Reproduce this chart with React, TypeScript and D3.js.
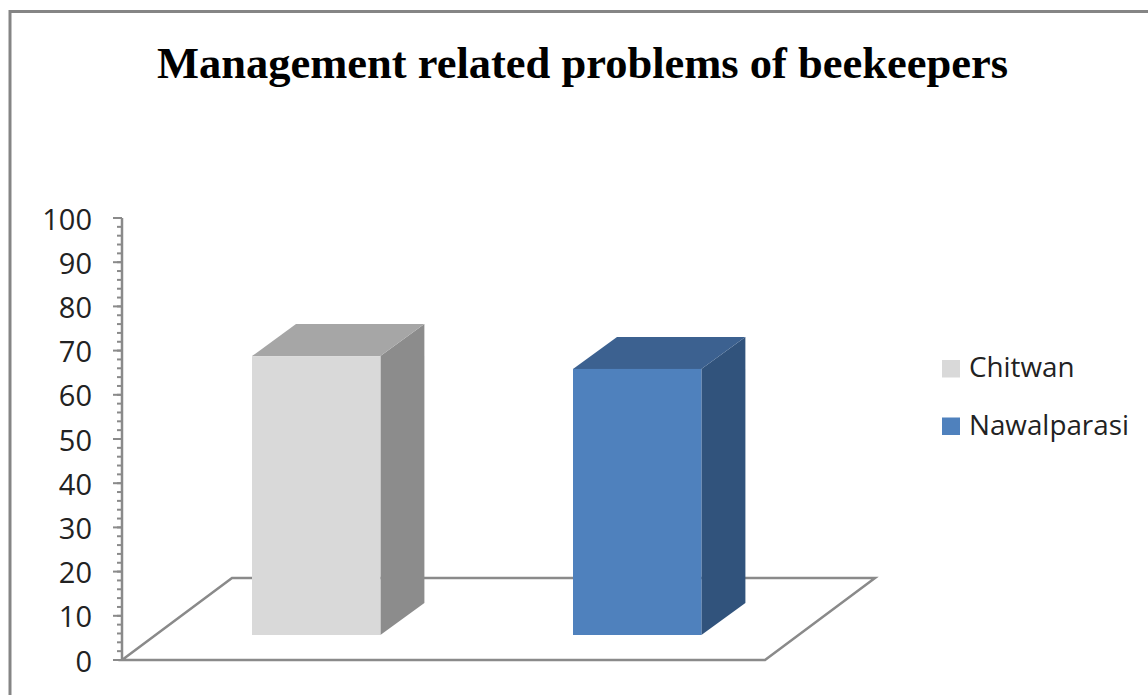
import React from "react";
import * as d3 from "d3";

const chartTitle = "Management related problems of beekeepers";
const seriesNames = ["Chitwan", "Nawalparasi"];
const seriesValues = [63.1, 60.2];
const frontColors = ["#d9d9d9", "#4f81bd"];
const topColors = ["#a6a6a6", "#3c6190"];
const sideColors = ["#8c8c8c", "#31537c"];
const majorTicks = [0, 10, 20, 30, 40, 50, 60, 70, 80, 90, 100];
const minorTicks = d3.range(0, 101, 2);

const WIDTH = 1148;
const HEIGHT = 695;
const AXIS_COLOR = "#8a8a8a";
const LABEL_FONT = "'Open Sans', sans-serif";

// Oblique projection used for the floor and the bar depth.
const FLOOR_DX = 110;
const FLOOR_DY = 82;
const BAR_DX = 44;
const BAR_DY = 32;
const BAR_LIFT = 25;

export default function App() {
  const y = d3.scaleLinear().domain([0, 100]).range([660, 218]);
  const x = d3
    .scaleBand<string>()
    .domain(seriesNames)
    .range([123.6, 829.8])
    .paddingInner(0.6)
    .paddingOuter(0.4);

  const floorLeft = 122;
  const floorRight = 765;
  const floorPath = d3.path();
  floorPath.moveTo(floorLeft, y(0));
  floorPath.lineTo(floorLeft + FLOOR_DX, y(0) - FLOOR_DY);
  floorPath.lineTo(floorRight + FLOOR_DX, y(0) - FLOOR_DY);
  floorPath.lineTo(floorRight, y(0));
  floorPath.closePath();

  const polygon = (points: [number, number][]) => d3.line()(points) + "Z";

  return (
    <svg
      width={WIDTH}
      height={HEIGHT}
      style={{ position: "absolute", left: 0, top: 0, background: "#fff" }}
    >
      {/* Chart frame: only its top and left edges fall inside the page */}
      <path d={`M10,${HEIGHT} V11.5 H${WIDTH}`} fill="none" stroke="#858585" strokeWidth={3} />

      <text
        x={582.5}
        y={77.5}
        textAnchor="middle"
        fontFamily="'Liberation Serif', serif"
        fontWeight="bold"
        fontSize={44.5}
        fill="#000"
      >
        {chartTitle}
      </text>

      {/* Floor plane */}
      <path d={floorPath.toString()} fill="#fff" stroke={AXIS_COLOR} strokeWidth={2.5} />

      {/* Value axis */}
      <line x1={floorLeft} x2={floorLeft} y1={y(100)} y2={y(0)} stroke={AXIS_COLOR} strokeWidth={2.5} />
      {minorTicks.map((t) => (
        <line key={t} x1={floorLeft - 5} x2={floorLeft} y1={y(t)} y2={y(t)} stroke={AXIS_COLOR} strokeWidth={2} />
      ))}
      {majorTicks.map((t) => (
        <g key={t}>
          <line x1={floorLeft - 9} x2={floorLeft} y1={y(t)} y2={y(t)} stroke={AXIS_COLOR} strokeWidth={2} />
          <text
            x={92}
            y={y(t) + 11.5}
            textAnchor="end"
            fontFamily={LABEL_FONT}
            fontSize={29}
            fill="#222"
          >
            {t}
          </text>
        </g>
      ))}

      {/* 3D bars: side, top, then front face */}
      {seriesNames.map((name, i) => {
        const left = x(name) as number;
        const right = left + x.bandwidth();
        const bottom = y(0) - BAR_LIFT;
        const top = y(seriesValues[i]) - BAR_LIFT;
        return (
          <g key={name}>
            <path
              d={polygon([
                [right, top],
                [right + BAR_DX, top - BAR_DY],
                [right + BAR_DX, bottom - BAR_DY],
                [right, bottom],
              ])}
              fill={sideColors[i]}
            />
            <path
              d={polygon([
                [left, top],
                [left + BAR_DX, top - BAR_DY],
                [right + BAR_DX, top - BAR_DY],
                [right, top],
              ])}
              fill={topColors[i]}
            />
            <rect x={left} y={top} width={x.bandwidth()} height={bottom - top} fill={frontColors[i]} />
          </g>
        );
      })}

      {/* Legend */}
      {seriesNames.map((name, i) => (
        <g key={name} transform={`translate(942, ${360 + i * 57.5})`}>
          <rect width={18} height={17.5} fill={frontColors[i]} />
          <text x={27} y={17} fontFamily={LABEL_FONT} fontSize={27.8} fill="#222">
            {name}
          </text>
        </g>
      ))}
    </svg>
  );
}
